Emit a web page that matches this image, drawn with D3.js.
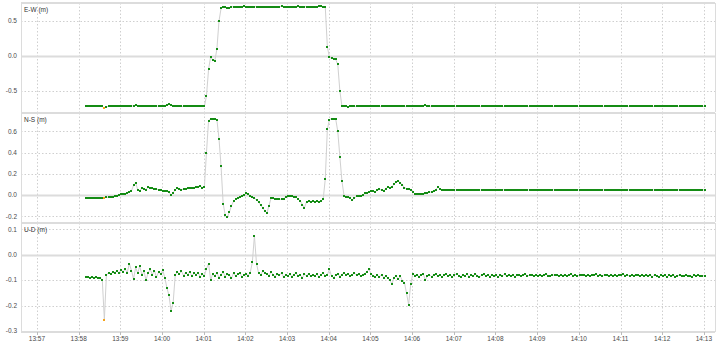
<!DOCTYPE html>
<html><head><meta charset="utf-8">
<script src="https://cdn.jsdelivr.net/npm/d3@7"></script>
<style>body{margin:0;background:#fff;} svg{display:block;font-family:"Liberation Sans",Arial,sans-serif;}</style>
</head><body><svg id="chart" width="720" height="342"></svg>
<script>
// ---- data (metres), one sample every 3 s starting 13:58:10 ----
const startTime = [13, 58, 10];
const stepSeconds = 3;
const flaggedSamples = [9];
const timeTickLabels = ["13:57","13:58","13:59","14:00","14:01","14:02","14:03","14:04","14:05","14:06","14:07","14:08","14:09","14:10","14:11","14:12","14:13"];
const panelTitles = ["E-W (m)", "N-S (m)", "U-D (m)"];
const eastWestTicks = [0.5, 0.0, -0.5];
const northSouthTicks = [0.6, 0.4, 0.2, 0.0, -0.2];
const upDownTicks = [0.1, 0.0, -0.1, -0.2, -0.3];

const eastWest = [
-0.72,-0.72,-0.72,-0.72,-0.72,-0.72,-0.72,-0.72,-0.72,-0.75,
-0.725,-0.72,-0.72,-0.715,-0.72,-0.72,-0.715,-0.715,-0.72,-0.72,
-0.715,-0.72,-0.715,-0.71,-0.705,-0.71,-0.715,-0.72,-0.715,-0.715,
-0.715,-0.715,-0.72,-0.715,-0.715,-0.715,-0.72,-0.715,-0.71,-0.70,
-0.69,-0.705,-0.715,-0.72,-0.72,-0.72,-0.72,-0.72,-0.72,-0.72,
-0.72,-0.72,-0.72,-0.72,-0.72,-0.72,-0.72,-0.72,-0.57,-0.19,
-0.01,-0.06,-0.07,0.10,0.50,0.68,0.705,0.695,0.685,0.69,
0.70,0.705,0.705,0.70,0.705,0.705,0.71,0.705,0.705,0.705,
0.70,0.705,0.705,0.705,0.70,0.70,0.695,0.695,0.70,0.705,
0.705,0.705,0.705,0.705,0.71,0.705,0.705,0.705,0.705,0.705,
0.705,0.705,0.71,0.705,0.705,0.705,0.705,0.705,0.705,0.705,
0.705,0.705,0.71,0.71,0.705,0.70,0.13,-0.02,-0.03,-0.04,
-0.05,-0.12,-0.50,-0.72,-0.72,-0.72,-0.725,-0.72,-0.72,-0.72,
-0.72,-0.72,-0.72,-0.72,-0.72,-0.72,-0.72,-0.72,-0.72,-0.72,
-0.72,-0.72,-0.72,-0.72,-0.72,-0.72,-0.72,-0.72,-0.72,-0.72,
-0.72,-0.72,-0.72,-0.72,-0.72,-0.72,-0.72,-0.715,-0.72,-0.72,
-0.72,-0.715,-0.71,-0.705,-0.71,-0.715,-0.72,-0.72,-0.72,-0.72,
-0.72,-0.72,-0.72,-0.72,-0.72,-0.72,-0.72,-0.72,-0.72,-0.72,
-0.72,-0.72,-0.72,-0.72,-0.72,-0.72,-0.72,-0.72,-0.72,-0.72,
-0.72,-0.72,-0.72,-0.72,-0.72,-0.72,-0.72,-0.72,-0.72,-0.72,
-0.72,-0.72,-0.72,-0.72,-0.72,-0.72,-0.72,-0.72,-0.72,-0.72,
-0.72,-0.72,-0.72,-0.72,-0.72,-0.72,-0.72,-0.72,-0.72,-0.72,
-0.72,-0.72,-0.72,-0.72,-0.72,-0.72,-0.72,-0.72,-0.72,-0.72,
-0.72,-0.72,-0.72,-0.72,-0.72,-0.72,-0.72,-0.72,-0.72,-0.72,
-0.72,-0.72,-0.72,-0.72,-0.72,-0.72,-0.72,-0.72,-0.72,-0.72,
-0.72,-0.72,-0.72,-0.72,-0.72,-0.72,-0.72,-0.72,-0.72,-0.72,
-0.72,-0.72,-0.72,-0.72,-0.72,-0.72,-0.72,-0.72,-0.72,-0.72,
-0.72,-0.72,-0.72,-0.72,-0.72,-0.715,-0.72,-0.72,-0.715,-0.72,
-0.72,-0.72,-0.715,-0.72,-0.72,-0.72,-0.72,-0.715,-0.72,-0.72,
-0.72,-0.72,-0.72,-0.72,-0.72,-0.72,-0.72,-0.72
];

const northSouth = [
-0.025,-0.025,-0.025,-0.025,-0.025,-0.025,-0.025,-0.025,-0.025,-0.025,
-0.022,-0.02,-0.016,-0.014,-0.01,-0.006,0.0,0.005,0.008,0.01,
0.02,0.025,0.04,0.09,0.115,0.05,0.035,0.07,0.06,0.05,
0.075,0.07,0.065,0.06,0.055,0.05,0.045,0.04,0.04,0.035,
0.025,0.0,0.02,0.05,0.065,0.06,0.05,0.055,0.06,0.065,
0.065,0.07,0.07,0.075,0.08,0.085,0.07,0.08,0.40,0.70,
0.72,0.72,0.72,0.71,0.53,0.27,-0.08,-0.19,-0.21,-0.16,
-0.10,-0.06,-0.04,-0.025,-0.02,-0.005,0.0,0.015,0.01,-0.01,
-0.02,-0.03,-0.045,-0.065,-0.095,-0.12,-0.15,-0.17,-0.10,-0.03,
-0.03,-0.035,-0.035,-0.04,-0.04,-0.035,-0.02,-0.01,-0.01,-0.01,
-0.015,-0.02,-0.04,-0.055,-0.09,-0.12,-0.065,-0.06,-0.065,-0.06,
-0.065,-0.06,-0.065,-0.055,-0.04,0.15,0.62,0.71,0.72,0.72,
0.715,0.60,0.36,0.13,-0.005,-0.02,-0.02,-0.03,-0.05,-0.03,
-0.01,-0.01,-0.01,0.0,0.015,0.02,0.03,0.04,0.035,0.03,
0.045,0.055,0.045,0.04,0.06,0.075,0.07,0.08,0.10,0.12,
0.135,0.115,0.095,0.07,0.06,0.055,0.045,0.03,0.01,0.01,
0.005,0.01,0.005,0.015,0.02,0.025,0.03,0.04,0.05,0.075,
0.06,0.047,0.048,0.047,0.048,0.048,0.047,0.048,0.049,0.048,
0.048,0.047,0.048,0.048,0.049,0.048,0.047,0.048,0.048,0.048,
0.047,0.048,0.048,0.047,0.048,0.049,0.048,0.048,0.047,0.048,
0.048,0.049,0.048,0.047,0.048,0.048,0.048,0.049,0.048,0.047,
0.048,0.048,0.047,0.048,0.049,0.048,0.048,0.047,0.048,0.048,
0.049,0.048,0.048,0.047,0.048,0.048,0.049,0.048,0.047,0.048,
0.048,0.047,0.048,0.049,0.048,0.048,0.047,0.048,0.048,0.049,
0.048,0.047,0.048,0.048,0.048,0.049,0.048,0.047,0.048,0.048,
0.047,0.048,0.049,0.048,0.048,0.047,0.048,0.048,0.049,0.048,
0.048,0.047,0.048,0.048,0.049,0.048,0.047,0.048,0.048,0.048,
0.049,0.048,0.047,0.048,0.048,0.049,0.048,0.048,0.047,0.048,
0.048,0.049,0.048,0.047,0.048,0.048,0.048,0.049,0.048,0.047,
0.048,0.048,0.049,0.048,0.047,0.048,0.048,0.048
];

const upDown = [
-0.086,-0.088,-0.09,-0.087,-0.092,-0.089,-0.091,-0.093,-0.098,-0.255,
-0.078,-0.072,-0.075,-0.068,-0.07,-0.064,-0.072,-0.06,-0.066,-0.058,
-0.07,-0.035,-0.062,-0.095,-0.05,-0.072,-0.045,-0.08,-0.065,-0.1,
-0.07,-0.058,-0.078,-0.062,-0.088,-0.068,-0.075,-0.06,-0.09,-0.13,
-0.16,-0.22,-0.19,-0.08,-0.068,-0.075,-0.065,-0.082,-0.07,-0.078,
-0.066,-0.085,-0.072,-0.078,-0.07,-0.088,-0.075,-0.082,-0.055,-0.035,
-0.1,-0.075,-0.085,-0.07,-0.09,-0.078,-0.068,-0.086,-0.074,-0.08,
-0.092,-0.072,-0.084,-0.076,-0.07,-0.088,-0.08,-0.074,-0.082,-0.07,
-0.03,0.075,-0.035,-0.072,-0.078,-0.065,-0.07,-0.075,-0.082,-0.068,
-0.078,-0.086,-0.074,-0.08,-0.072,-0.088,-0.079,-0.083,-0.076,-0.086,
-0.078,-0.072,-0.084,-0.08,-0.09,-0.077,-0.082,-0.075,-0.085,-0.079,
-0.083,-0.076,-0.088,-0.078,-0.072,-0.082,-0.078,-0.058,-0.084,-0.09,
-0.08,-0.074,-0.086,-0.078,-0.07,-0.08,-0.076,-0.084,-0.078,-0.072,
-0.08,-0.076,-0.085,-0.078,-0.074,-0.066,-0.058,-0.075,-0.082,-0.086,
-0.08,-0.088,-0.078,-0.09,-0.084,-0.092,-0.1,-0.115,-0.09,-0.082,
-0.096,-0.085,-0.102,-0.11,-0.152,-0.196,-0.115,-0.075,-0.082,-0.078,
-0.086,-0.08,-0.074,-0.1,-0.082,-0.078,-0.086,-0.08,-0.075,-0.084,
-0.078,-0.088,-0.08,-0.076,-0.084,-0.079,-0.086,-0.08,-0.074,-0.082,
-0.088,-0.079,-0.083,-0.076,-0.086,-0.08,-0.084,-0.077,-0.082,-0.088,
-0.08,-0.076,-0.084,-0.08,-0.086,-0.078,-0.083,-0.08,-0.087,-0.079,
-0.082,-0.077,-0.085,-0.08,-0.083,-0.078,-0.086,-0.081,-0.079,-0.084,
-0.08,-0.077,-0.083,-0.081,-0.078,-0.084,-0.08,-0.082,-0.079,-0.083,
-0.08,-0.077,-0.082,-0.084,-0.079,-0.081,-0.078,-0.083,-0.08,-0.082,
-0.079,-0.084,-0.08,-0.077,-0.082,-0.08,-0.083,-0.079,-0.081,-0.078,
-0.082,-0.08,-0.084,-0.079,-0.081,-0.077,-0.083,-0.08,-0.082,-0.079,
-0.081,-0.084,-0.078,-0.082,-0.08,-0.083,-0.079,-0.081,-0.077,-0.082,
-0.08,-0.084,-0.079,-0.082,-0.078,-0.081,-0.085,-0.08,-0.083,-0.079,
-0.082,-0.08,-0.086,-0.078,-0.083,-0.088,-0.079,-0.085,-0.081,-0.087,
-0.08,-0.084,-0.079,-0.086,-0.082,-0.08,-0.085,-0.083,-0.079,-0.084,
-0.082,-0.086,-0.08,-0.084,-0.081,-0.085,-0.082,-0.084
];

// ---- layout ----
const svg = d3.select("#chart");
const left = 21, right = 715;
const day = (h, m, s) => new Date(2020, 0, 1, h, m, s);
const x = d3.scaleTime().domain([day(13,56,37), day(14,13,16)]).range([left, right]);
const t0 = day(...startTime);
const timeOf = i => new Date(t0.getTime() + i * stepSeconds * 1000);
const tickTimes = timeTickLabels.map(s => { const [h, m] = s.split(":").map(Number); return day(h, m, 0); });
const fmt = d3.formatLocale({decimal: ".", thousands: ",", grouping: [3], currency: ["", ""], minus: "-"}).format(".1f");

const panels = [
  {title: panelTitles[0], values: eastWest,   ticks: eastWestTicks,   domain: [-0.8, 0.757],  top: 3,   bottom: 112},
  {title: panelTitles[1], values: northSouth, ticks: northSouthTicks, domain: [-0.254, 0.772], top: 113, bottom: 222},
  {title: panelTitles[2], values: upDown,     ticks: upDownTicks,     domain: [-0.304, 0.125], top: 223, bottom: 332}
];

const gridColor = "#cfcfcf", frameColor = "#dcdcdc", textColor = "#4a4a4a";
const pointColor = "#148c14", flagColor = "#f5a31a", lineColor = "#d0d0d0";

panels.forEach(p => {
  const y = d3.scaleLinear().domain(p.domain).range([p.bottom, p.top]);
  const g = svg.append("g");
  // vertical dotted grid
  g.selectAll(".vg").data(tickTimes).join("line")
    .attr("x1", d => Math.round(x(d)) + 0.5).attr("x2", d => Math.round(x(d)) + 0.5)
    .attr("y1", p.top).attr("y2", p.bottom)
    .attr("stroke", gridColor).attr("stroke-width", 1).attr("stroke-dasharray", "1.5,2");
  // horizontal grid
  g.selectAll(".hg").data(p.ticks).join("line")
    .attr("x1", left).attr("x2", right)
    .attr("y1", d => Math.round(y(d)) + 0.5).attr("y2", d => Math.round(y(d)) + 0.5)
    .attr("stroke", d => d === 0 ? frameColor : gridColor)
    .attr("stroke-width", d => d === 0 ? 2 : 1)
    .attr("stroke-dasharray", d => d === 0 ? null : "1.5,2");
  // frame
  g.append("line").attr("x1", left).attr("x2", right).attr("y1", p.top).attr("y2", p.top)
    .attr("stroke", frameColor).attr("stroke-width", 2);
  g.append("line").attr("x1", left + 0.5).attr("x2", left + 0.5).attr("y1", p.top).attr("y2", p.bottom)
    .attr("stroke", frameColor).attr("stroke-width", 1);
  g.append("line").attr("x1", right + 0.5).attr("x2", right + 0.5).attr("y1", p.top).attr("y2", p.bottom)
    .attr("stroke", frameColor).attr("stroke-width", 1);
  // y tick labels
  g.selectAll(".yl").data(p.ticks).join("text")
    .attr("x", 17).attr("y", d => y(d) + 2.3)
    .attr("text-anchor", "end").attr("font-size", 6.5).attr("fill", textColor)
    .text(d => fmt(d));
  // title
  g.append("text").attr("x", 24).attr("y", p.top + 8.5)
    .attr("font-size", 6.5).attr("fill", "#333").text(p.title);
  // connecting line
  const line = d3.line().x((d, i) => x(timeOf(i))).y(d => y(d));
  g.append("path").datum(p.values).attr("d", line)
    .attr("fill", "none").attr("stroke", lineColor).attr("stroke-width", 1);
  // points
  g.selectAll(".pt").data(p.values).join("rect")
    .attr("x", (d, i) => Math.round(x(timeOf(i)) - 1)).attr("y", d => Math.round(y(d) - 1))
    .attr("width", 2).attr("height", 2).attr("shape-rendering", "crispEdges")
    .attr("fill", (d, i) => flaggedSamples.includes(i) ? flagColor : pointColor);
});

// bottom time axis
const axisY = 332;
svg.append("line").attr("x1", left).attr("x2", right).attr("y1", axisY).attr("y2", axisY)
  .attr("stroke", frameColor).attr("stroke-width", 2);
svg.selectAll(".xt").data(tickTimes).join("line")
  .attr("x1", d => Math.round(x(d)) + 0.5).attr("x2", d => Math.round(x(d)) + 0.5)
  .attr("y1", axisY).attr("y2", axisY + 3).attr("stroke", "#bbbbbb");
svg.selectAll(".xl").data(tickTimes).join("text")
  .attr("x", d => x(d)).attr("y", 340.5).attr("text-anchor", "middle")
  .attr("font-size", 6.5).attr("fill", textColor)
  .text((d, i) => timeTickLabels[i]);
</script></body></html>
